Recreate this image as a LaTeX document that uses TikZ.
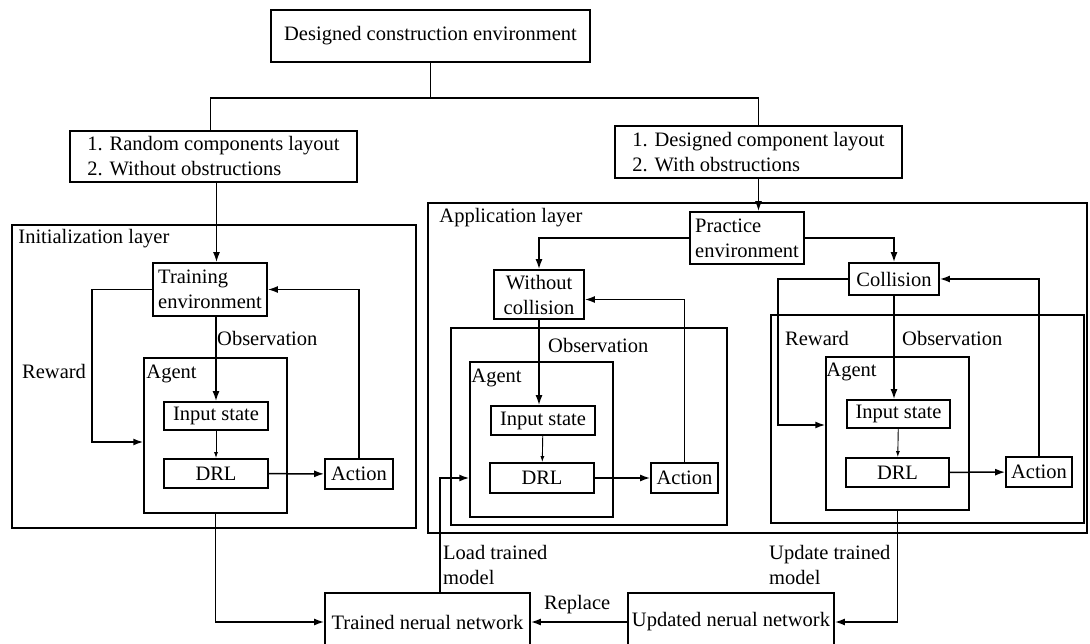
\documentclass[tikz,border=0pt]{standalone}
\usepackage{fontspec}
\setmainfont{Liberation Serif}
\usetikzlibrary{arrows.meta,positioning,calc}

\begin{document}
\begin{tikzpicture}[x=1pt,y=-1pt,
    every node/.style={font=\fontsize{20.5}{25}\selectfont},
    box/.style={draw,line width=1.8pt,inner sep=0pt,align=center},
    frame/.style={draw,line width=1.5pt,inner sep=0pt},
    tag/.style={inner sep=0pt,anchor=west},
    conn/.style={line width=1.5pt},
    arr/.style={conn,-{Latex[length=10pt,width=7pt]}},
    thin/.style={line width=0.9pt,-{Latex[length=6pt,width=4pt]}}]
    \useasboundingbox (0,0) rectangle (1090,644);
    \clip (0,0) rectangle (1090,644);

    \node[box,minimum width=319pt,minimum height=52pt] (topenv) at (430.5,36) {Designed construction environment};
    \node[box,align=left,minimum width=287pt,minimum height=51pt] (listA) at (213.5,156.5) {1. Random components layout\\2. Without obstructions};
    \node[box,align=left,minimum width=287pt,minimum height=52pt] (listB) at (758.5,152) {1. Designed component layout\\2. With obstructions};

    \node[frame,minimum width=404pt,minimum height=303pt] (initlayer) at (214,376.5) {};
    \node[tag] (initlbl) at ($(initlayer.north west)+(7,14)$) {Initialization layer};
    \node[frame,minimum width=659pt,minimum height=330pt] (applayer) at (757.5,368) {};
    \node[tag] (applbl) at ($(applayer.north west)+(12,15)$) {Application layer};

    \node[box,align=left,minimum width=114pt,minimum height=53pt] (trainenv) at (210,289.5) {Training\\environment};
    \node[frame,minimum width=143pt,minimum height=155pt] (agentA) at (215.5,435.5) {};
    \node[tag] (agentAlbl) at ($(agentA.north west)+(3,17)$) {Agent};
    \node[box,minimum width=104pt,minimum height=28pt] (inA) at (216,416) {Input state};
    \node[box,minimum width=104pt,minimum height=29pt] (drlA) at (216,473.5) {DRL};
    \node[box,minimum width=68pt,minimum height=30pt] (actA) at (359,474) {Action};
    \node[tag] (rewA) at (22,371) {Reward};
    \node[tag] (obsA) at (217,338) {Observation};

    \node[box,align=left,minimum width=114pt,minimum height=52pt] (practice) at (747,238) {Practice\\environment};
    \node[box,minimum width=90pt,minimum height=49pt] (nocoll) at (539,294.5) {Without\\collision};
    \node[frame,minimum width=276pt,minimum height=197pt] (obsboxB) at (589,426.5) {};
    \node[tag] (obsB) at (548,345) {Observation};
    \node[frame,minimum width=143pt,minimum height=155pt] (agentB) at (541.5,439.5) {};
    \node[tag] (agentBlbl) at ($(agentB.north west)+(2,17)$) {Agent};
    \node[box,minimum width=104pt,minimum height=29pt] (inB) at (543,420.5) {Input state};
    \node[box,minimum width=104pt,minimum height=30pt] (drlB) at (542,478) {DRL};
    \node[box,minimum width=67pt,minimum height=30pt] (actB) at (684.5,478) {Action};

    \node[box,minimum width=90pt,minimum height=32pt] (coll) at (894,279) {Collision};
    \node[frame,minimum width=313pt,minimum height=208pt] (obsboxC) at (927.5,419) {};
    \node[tag] (rewC) at (785,338) {Reward};
    \node[tag] (obsC) at (902,338) {Observation};
    \node[frame,minimum width=143pt,minimum height=153pt] (agentC) at (897.5,433.5) {};
    \node[tag] (agentClbl) at ($(agentC.north west)+(1,16)$) {Agent};
    \node[box,minimum width=103pt,minimum height=28pt] (inC) at (898.5,414) {Input state};
    \node[box,minimum width=103pt,minimum height=29pt] (drlC) at (897.5,472.5) {DRL};
    \node[box,minimum width=66pt,minimum height=30pt] (actC) at (1039,472) {Action};

    \node[box,minimum width=205pt,minimum height=58pt] (trained) at (427.5,622) {Trained nerual network};
    \node[box,minimum width=206pt,minimum height=58pt] (updated) at (731,622) {Updated nerual network};
    \node[tag,align=left] (loadlbl) at (443,565) {Load trained\\model};
    \node[tag,align=left] (updlbl) at (769,565) {Update trained\\model};
    \node[tag] (repl) at (544,605) {Replace};

    \draw[conn] (topenv.south) -- ++(0,35) coordinate (split);
    \draw[conn] (split) -| ([xshift=-3pt]listA.north);
    \draw[conn] (split) -| (listB.north);
    \draw[arr] ([xshift=3pt]listA.south) -- ([xshift=3pt]listA.south |- trainenv.north);
    \draw[arr] (listB.south) -- (listB.south |- practice.north);

    \draw[arr] (trainenv.south -| inA.north) -- (inA.north);
    \draw[thin] (inA) -- (drlA);
    \draw[arr] (drlA) -- (actA);
    \draw[arr] (actA.north) |- (trainenv.east);
    \draw[arr] (trainenv.west) -- ++(-60,0) |- (agentA.west |- 0,442);

    \draw[arr] (practice.west) -| (nocoll.north);
    \draw[arr] (practice.east) -| (coll.north);
    \draw[arr] (nocoll.south) -- (nocoll.south |- inB.north);
    \draw[thin] (inB) -- (drlB);
    \draw[arr] (drlB) -- (actB);
    \draw[arr] (actB.north) |- ([yshift=-5pt]nocoll.east);

    \draw[arr] (coll.south) -- (coll.south |- inC.north);
    \draw[thin] (inC) -- (drlC);
    \draw[arr] (drlC) -- (actC);
    \draw[arr] (actC.north) |- (coll.east);
    \draw[arr] (coll.west) -- ++(-70,0) |- (agentC.west |- 0,425);

    \coordinate (loadx) at (440,478);
    \draw[arr] (agentA.south) |- (trained.west);
    \draw[arr] (trained.north -| loadx) |- (agentB.west |- loadx);
    \draw[arr] (agentC.south) |- (updated.east);
    \draw[arr] (updated.west) -- (trained.east);
\end{tikzpicture}
\end{document}
